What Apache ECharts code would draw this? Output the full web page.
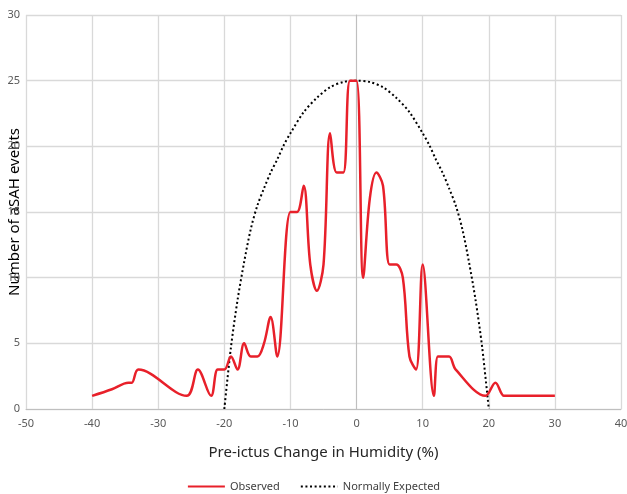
<!DOCTYPE html>
<html>
<head>
<meta charset="utf-8">
<script src="https://cdn.jsdelivr.net/npm/echarts@6/dist/echarts.min.js"></script>
<style>
html,body{margin:0;padding:0;background:#fff;}
#chart{width:627px;height:494px;}
</style>
</head>
<body>
<div id="chart"></div>
<script>
// X tick range / Y tick range
var xTicks = [-50, -40, -30, -20, -10, 0, 10, 20, 30, 40];
var yTicks = [0, 5, 10, 15, 20, 25, 30];

// Observed aSAH events vs pre-ictus humidity change
var observedX = [-40, -37, -34.5, -34, -33, -25.7, -24, -22, -21, -20, -19, -18, -17, -16, -15, -14, -13, -12, -10, -9, -8, -7, -6, -5, -4, -3, -2, -1, 0, 1, 2, 3, 4, 5, 6, 7, 8, 9, 10, 11.7, 12.3, 13, 14, 15, 19.5, 21, 22.3, 23, 30];
var observedY = [1, 1.5, 2, 2, 3, 1, 3, 1, 3, 3, 4, 3, 5, 4, 4, 5, 7, 4, 15, 15, 17, 11, 9, 11, 21, 18, 18, 25, 25, 10, 16, 18, 17, 11, 11, 10, 4, 3, 11, 1, 4, 4, 4, 3, 1, 2, 1, 1, 1];

// Normally expected distribution
var expectedX = [-20, -19, -18, -17, -16, -15, -14, -13, -12, -11, -10, -8, -6, -4, -2, 0, 2, 4, 6, 8, 10, 11, 12, 13, 14, 15, 16, 17, 18, 19, 20];
var expectedY = [0, 4.7, 8.3, 11.2, 13.7, 15.5, 16.8, 18, 19, 20.1, 21, 22.6, 23.7, 24.5, 24.9, 25, 24.9, 24.5, 23.7, 22.6, 21, 20.1, 19, 18, 16.8, 15.5, 13.7, 11.2, 8.3, 4.7, 0];

var yTitle = 'Number of aSAH events';
var xTitle = 'Pre-ictus Change in Humidity (%)';

function pairs(xs, ys) { return xs.map(function (x, i) { return [x, ys[i]]; }); }

var FONT = 'Noto Sans';
var chart = echarts.init(document.getElementById('chart'));
chart.setOption({
  animation: false,
  backgroundColor: '#ffffff',
  textStyle: { fontFamily: FONT },
  grid: { left: 26, right: 6, top: 15, bottom: 85, containLabel: false, outerBoundsMode: 'none' },
  graphic: [{
    type: 'text',
    x: 15,
    y: 212,
    rotation: Math.PI / 2,
    style: {
      text: yTitle,
      fontFamily: FONT,
      fontSize: 15,
      fill: '#000000',
      align: 'center',
      verticalAlign: 'middle'
    }
  }],
  legend: {
    bottom: -3,
    left: 'center',
    itemWidth: 37,
    itemHeight: 10,
    itemGap: 20,
    itemStyle: { opacity: 0 },
    textStyle: { fontFamily: FONT, fontSize: 11, color: '#404040' },
    data: ['Observed', 'Normally Expected']
  },
  xAxis: {
    type: 'value',
    min: xTicks[0],
    max: xTicks[xTicks.length - 1],
    interval: 10,
    name: xTitle,
    nameLocation: 'middle',
    nameGap: 36,
    nameTextStyle: { fontFamily: FONT, fontSize: 15, color: '#262626' },
    axisLine: { show: true, onZero: false, lineStyle: { color: '#bfbfbf', width: 1 } },
    axisTick: { show: false },
    axisLabel: { fontFamily: FONT, fontSize: 11, color: '#595959', margin: 9 },
    splitLine: { show: true, lineStyle: { color: '#d9d9d9', width: 1.3 } }
  },
  yAxis: {
    type: 'value',
    min: yTicks[0],
    max: yTicks[yTicks.length - 1],
    interval: 5,
    axisLine: { show: true, onZero: true, lineStyle: { color: '#bfbfbf', width: 1 } },
    axisTick: { show: false },
    axisLabel: { fontFamily: FONT, fontSize: 11, color: '#595959', margin: 6 },
    splitLine: { show: true, lineStyle: { color: '#d9d9d9', width: 1.3 } }
  },
  series: [{
    name: 'Observed',
    type: 'line',
    data: pairs(observedX, observedY),
    smooth: 0.35,
    symbol: 'none',
    color: '#e8202a',
    lineStyle: { color: '#e8202a', width: 2.5 },
    z: 3
  }, {
    name: 'Normally Expected',
    type: 'line',
    data: pairs(expectedX, expectedY),
    smooth: 0.3,
    symbol: 'none',
    color: '#000000',
    lineStyle: { color: '#000000', width: 2, type: [2, 2.6] },
    z: 2
  }]
});
</script>
</body>
</html>
